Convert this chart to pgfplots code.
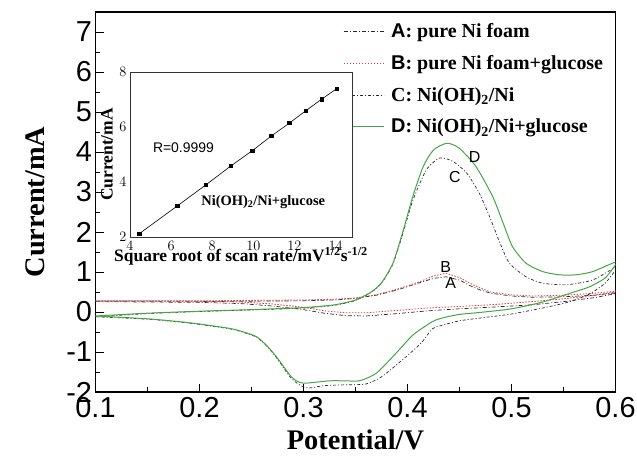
\documentclass[border=0pt]{standalone}
\usepackage{fontspec}
\setmainfont{Liberation Serif}
\setsansfont{Liberation Sans}
\usepackage{pgfplots}
\pgfplotsset{compat=1.18}
\definecolor{cgreen}{RGB}{70,165,70}
\definecolor{cred}{RGB}{225,60,60}
\definecolor{cdark}{RGB}{40,40,40}
\begin{document}
\begin{tikzpicture}
\begin{axis}[at={(0,0)}, anchor=south west, scale only axis, width=520bp, height=380bp,
 xmin=0.1,xmax=0.6,ymin=-2,ymax=7.5,
 xtick={0.1,0.2,0.3,0.4,0.5,0.6}, xticklabels={0.1,0.2,0.3,0.4,0.5,0.6},
 minor xtick={0.15,0.25,0.35,0.45,0.55},
 ytick={-2,-1,0,1,2,3,4,5,6,7}, yticklabels={-2,-1,0,1,2,3,4,5,6,7},
 minor ytick={-1.5,-0.5,0.5,1.5,2.5,3.5,4.5,5.5,6.5},
 tick pos=left, tick align=inside, major tick length=8bp, minor tick length=5bp,
 tick style={black, line width=0.8bp},
 axis line style={line width=1.2bp},
 ticklabel style={font=\sffamily\fontsize{29}{29}\selectfont},
 xticklabel style={yshift=-2bp},
 xlabel={\textbf{Potential/V}}, ylabel={\textbf{Current/mA}},
 label style={font=\fontsize{28.5}{28.5}\selectfont},
 xlabel style={at={(axis description cs:0.5,-0.126)}, anchor=center},
 ylabel style={at={(axis description cs:-0.115,0.5)}, anchor=center},
 legend style={at={(axis description cs:0.476,0.976)}, anchor=north west, draw=none, fill=none,
   font=\bfseries\fontsize{20}{20}\selectfont, row sep=12.5bp, column sep=5bp, inner sep=0pt, cells={anchor=west}},
 legend image code/.code={\draw[#1] (0bp,0bp) -- (40bp,0bp);},
 clip=true]
\addplot[cdark, line width=0.7bp, dash pattern=on 4bp off 2bp on 1bp off 2bp] coordinates {
(0.1,0.26) (0.15,0.26) (0.2,0.26) (0.25,0.27) (0.3,0.28) (0.33,0.30) (0.35,0.34) (0.37,0.42) (0.39,0.55) (0.41,0.72) (0.425,0.84) (0.437,0.88) (0.45,0.80) (0.46,0.66) (0.47,0.55) (0.48,0.47) (0.5,0.40) (0.52,0.37) (0.55,0.38) (0.58,0.42) (0.6,0.48)
(0.6,0.46) (0.58,0.36) (0.55,0.26) (0.52,0.18) (0.48,0.12) (0.45,0.08) (0.42,0.03) (0.39,-0.04) (0.36,-0.10) (0.34,-0.09) (0.32,-0.03) (0.3,0.06) (0.27,0.15) (0.24,0.21) (0.2,0.24) (0.15,0.25) (0.1,0.26)};
\addlegendentry{\textsf{A}: pure Ni foam}
\addplot[cred, line width=0.8bp, dash pattern=on 1.5bp off 1.5bp] coordinates {
(0.1,0.28) (0.15,0.28) (0.2,0.28) (0.25,0.29) (0.3,0.30) (0.33,0.32) (0.35,0.35) (0.37,0.43) (0.39,0.57) (0.41,0.74) (0.425,0.90) (0.437,0.97) (0.45,0.86) (0.46,0.72) (0.47,0.6) (0.48,0.5) (0.5,0.43) (0.52,0.40) (0.55,0.42) (0.58,0.47) (0.6,0.52)
(0.6,0.50) (0.58,0.42) (0.55,0.33) (0.52,0.26) (0.48,0.18) (0.45,0.14) (0.42,0.10) (0.39,0.04) (0.36,-0.02) (0.34,-0.02) (0.32,0.03) (0.3,0.12) (0.27,0.2) (0.24,0.25) (0.2,0.27) (0.15,0.28) (0.1,0.28)};
\addlegendentry{\textsf{B}: pure Ni foam+glucose}
\addplot[cdark, line width=0.7bp, dash pattern=on 3bp off 2bp on 1bp off 2bp, smooth, tension=0.4] coordinates {
(0.1,-0.12) (0.15,-0.04) (0.2,0.01) (0.25,0.05) (0.3,0.10) (0.33,0.17) (0.35,0.29) (0.365,0.49) (0.375,0.72) (0.386,1.2) (0.396,2.0) (0.405,2.78) (0.418,3.55) (0.431,3.85) (0.444,3.76) (0.457,3.47) (0.469,2.97) (0.479,2.38) (0.489,1.72) (0.498,1.22) (0.514,0.88) (0.53,0.72) (0.553,0.68) (0.578,0.80) (0.6,1.12)
(0.6,1.05) (0.59,0.72) (0.575,0.45) (0.555,0.25) (0.53,0.1) (0.5,-0.05) (0.47,-0.15) (0.45,-0.22) (0.435,-0.32) (0.424,-0.42) (0.413,-0.78) (0.395,-1.2) (0.375,-1.62) (0.36,-1.8) (0.34,-1.82) (0.32,-1.84) (0.305,-1.9) (0.296,-1.82) (0.287,-1.62) (0.274,-1.14) (0.265,-0.86) (0.255,-0.63) (0.24,-0.49) (0.229,-0.42) (0.2,-0.31) (0.18,-0.25) (0.15,-0.18) (0.1,-0.12)};
\addlegendentry{C: Ni(OH)\textsubscript{2}/Ni}
\addplot[cgreen, line width=1bp, smooth, tension=0.4] coordinates {
(0.1,-0.10) (0.15,-0.03) (0.2,0.02) (0.25,0.06) (0.3,0.11) (0.33,0.18) (0.35,0.30) (0.365,0.5) (0.375,0.73) (0.386,1.22) (0.396,2.05) (0.405,2.88) (0.415,3.63) (0.425,4.05) (0.438,4.22) (0.45,4.09) (0.466,3.63) (0.482,2.88) (0.492,2.22) (0.501,1.63) (0.514,1.22) (0.53,1.01) (0.546,0.93) (0.562,0.93) (0.578,1.01) (0.6,1.25)
(0.6,1.18) (0.59,0.85) (0.575,0.63) (0.56,0.5) (0.53,0.25) (0.5,0.08) (0.47,-0.01) (0.45,-0.06) (0.435,-0.14) (0.424,-0.24) (0.405,-0.58) (0.389,-1.03) (0.37,-1.53) (0.354,-1.72) (0.34,-1.72) (0.325,-1.72) (0.31,-1.76) (0.300,-1.78) (0.293,-1.72) (0.287,-1.58) (0.274,-1.12) (0.265,-0.85) (0.255,-0.62) (0.24,-0.48) (0.229,-0.41) (0.2,-0.3) (0.18,-0.24) (0.15,-0.17) (0.1,-0.10)};
\addlegendentry{\textsf{D}: Ni(OH)\textsubscript{2}/Ni+glucose}
\node[font=\sffamily\fontsize{16}{16}\selectfont] at (axis cs:0.4646,3.88) {D};
\node[font=\sffamily\fontsize{16}{16}\selectfont] at (axis cs:0.4455,3.38) {C};
\node[font=\sffamily\fontsize{16}{16}\selectfont] at (axis cs:0.4367,1.13) {B};
\node[font=\sffamily\fontsize{16}{16}\selectfont] at (axis cs:0.4415,0.73) {A};
\end{axis}
\begin{axis}[at={(34.5bp,155bp)}, anchor=south west, scale only axis, width=222bp, height=165bp,
 xmin=4,xmax=14.8,ymin=2,ymax=8,
 xtick={4,6,8,10,12,14}, ytick={2,4,6,8},
 major tick length=0pt, tick pos=left,
 axis line style={line width=0.6bp, black!80},
 axis background/.style={fill=white},
 ticklabel style={font=\sffamily\fontsize{15}{15}\selectfont},
 xticklabel style={yshift=-1bp},
 xlabel={\textbf{Square root of scan rate/mV\textsuperscript{1/2}s\textsuperscript{-1/2}}},
 ylabel={\textbf{Current/mA}},
 label style={font=\fontsize{17.5}{17.5}\selectfont},
 xlabel style={at={(axis description cs:0.5,-0.115)}, anchor=center},
 ylabel style={at={(axis description cs:-0.104,0.5)}, anchor=center}]
\addplot[black, line width=0.6bp, mark=square*, mark size=1.6bp] coordinates {
(4.45,2.12) (6.3,3.13) (7.7,3.9) (8.9,4.58) (9.95,5.14) (10.87,5.67) (11.75,6.14) (12.55,6.59) (13.32,7.01) (14.05,7.39)};
\node[font=\sffamily\fontsize{14}{14}\selectfont] at (axis cs:6.6,5.24) {R=0.9999};
\node[font=\bfseries\fontsize{14.5}{14.5}\selectfont] at (axis cs:10.48,3.27) {Ni(OH)\textsubscript{2}/Ni+glucose};
\end{axis}
\pgfresetboundingbox
\path[use as bounding box] (-95.5bp,-71bp) rectangle (541.5bp,392bp);
\end{tikzpicture}
\end{document}
